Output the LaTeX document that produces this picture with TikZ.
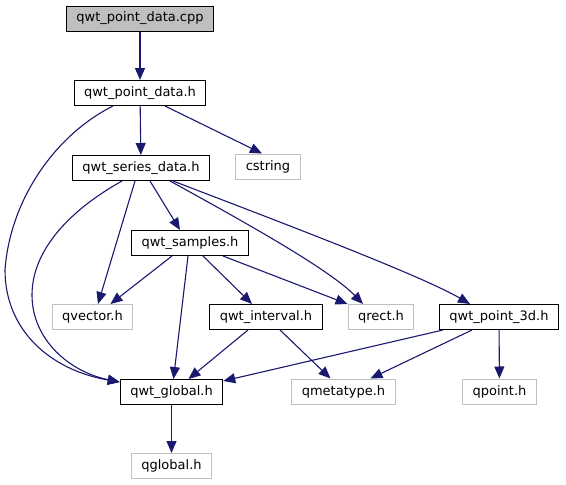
\documentclass[tikz,border=0pt]{standalone}
\usepackage{fontspec}
\setmainfont{DejaVu Sans}
\usepackage{xcolor}
\usetikzlibrary{arrows.meta}

\definecolor{edgeblue}{RGB}{25,25,112}
\definecolor{extgray}{RGB}{191,191,191}

\begin{document}
\begin{tikzpicture}[
  x=1pt, y=-1pt,
  file/.style={draw=black, line width=1pt, inner xsep=10pt, minimum height=25pt, font=\fontsize{13}{15}\selectfont},
  ext/.style={file, draw=extgray},
  root/.style={file, fill=extgray},
  dep/.style={-{Triangle[length=12pt, width=10pt]}, edgeblue, line width=1.1pt}
]
\useasboundingbox (0,0) rectangle (566,485);

\node[root] (cpp) at (140,18.5) {qwt\_point\_data.cpp};
\node[file] (pointdata) at (140,93) {qwt\_point\_data.h};
\node[ext] (cstring) at (268,166.5) {cstring};
\node[file] (seriesdata) at (141,168) {qwt\_series\_data.h};
\node[file] (samples) at (190,243) {qwt\_samples.h};
\node[ext] (qvector) at (92.5,317) {qvector.h};
\node[file] (interval) at (266,317) {qwt\_interval.h};
\node[ext] (qrect) at (381,317) {qrect.h};
\node[file] (point3d) at (499,317) {qwt\_point\_3d.h};
\node[ext] (qmetatype) at (343.5,391.5) {qmetatype.h};
\node[ext] (qpoint) at (499.5,391.5) {qpoint.h};
\node[file] (global) at (171.5,392) {qwt\_global.h};
\node[ext] (qglobal) at (171.5,466) {qglobal.h};

% includes
\draw[dep] (cpp) -- (pointdata);
\draw[dep] (pointdata) -- (seriesdata);
\draw[dep] ([xshift=25pt]pointdata.south) -- ([xshift=-6pt]cstring.north);
\draw[dep] ([xshift=-27pt]pointdata.south) .. controls (55,135) and (10,200) .. (5,270)
  .. controls (5,330) and (50,370) .. ([yshift=-3pt]global.north west);
\draw[dep] ([xshift=-19pt]seriesdata.south) .. controls (70,210) and (32,250) .. (32,295)
  .. controls (32,340) and (70,372) .. ([yshift=-3pt]global.north west);
\draw[dep] ([xshift=-6pt]seriesdata.south) -- ([xshift=5.5pt]qvector.north);
\draw[dep] ([xshift=9pt]seriesdata.south) -- ([xshift=-10pt]samples.north);
\draw[dep] ([xshift=29pt]seriesdata.south) .. controls (250,225) and (330,270) .. ([xshift=-18pt]qrect.north);
\draw[dep] ([xshift=32pt]seriesdata.south) .. controls (280,222) and (420,275) .. ([xshift=-29pt]point3d.north);
\draw[dep] ([xshift=-18pt]samples.south) -- ([xshift=18pt]qvector.north);
\draw[dep] ([xshift=-2pt]samples.south) -- ([xshift=2pt]global.north);
\draw[dep] ([xshift=13pt]samples.south) -- ([xshift=-14pt]interval.north);
\draw[dep] ([xshift=33pt]samples.south) -- (qrect.north west);
\draw[dep] ([xshift=-18pt]interval.south) -- ([xshift=17pt]global.north);
\draw[dep] ([xshift=14pt]interval.south) -- ([xshift=-13pt]qmetatype.north);
\draw[dep] ([xshift=4pt]point3d.south west) -- ([yshift=-2pt]global.north east);
\draw[dep] ([xshift=-27pt]point3d.south) -- ([xshift=27pt]qmetatype.north);
\draw[dep] (point3d) -- (qpoint);
\draw[dep] (global) -- (qglobal);
\end{tikzpicture}
\end{document}
